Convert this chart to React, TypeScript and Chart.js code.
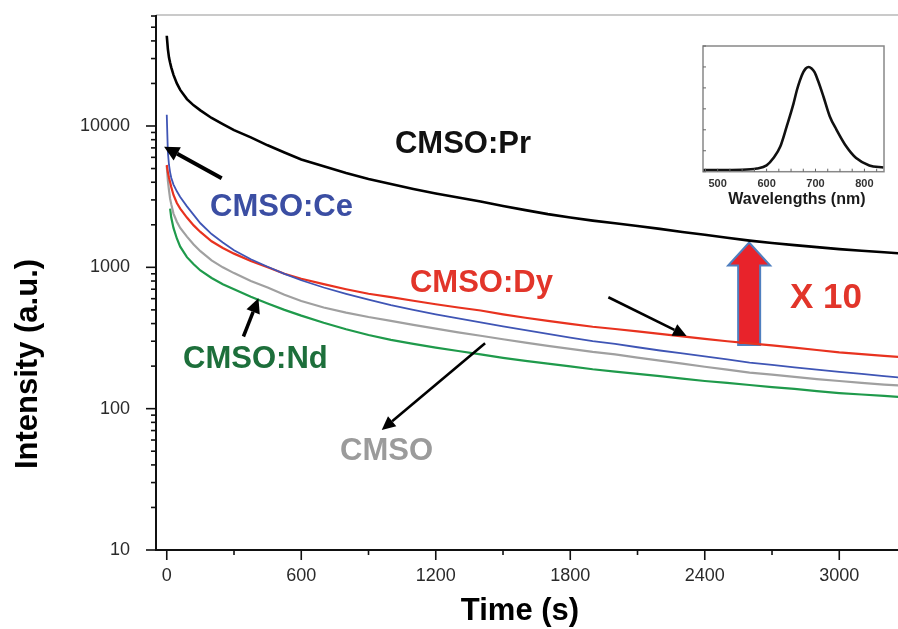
import React, { useEffect, useRef } from "react";
import { Chart, registerables } from "chart.js";

Chart.register(...registerables);

const FONT = '"Liberation Sans", Arial, Helvetica, sans-serif';

// ---- main decay data (time in s, intensity in a.u.) ----
const timeSec = [0, 5, 10, 15, 20, 30, 45, 60, 90, 120, 150, 200, 250, 300, 375, 450, 525, 600,
  700, 800, 900, 1000, 1100, 1200, 1300, 1400, 1500, 1600, 1700, 1800, 1900, 2000, 2100, 2200,
  2300, 2400, 2500, 2600, 2700, 2800, 2900, 3000, 3100, 3200, 3270];

const prValues = [43500, 35000, 30500, 28000, 26000, 23000, 20000, 18000, 15500, 14000, 12900, 11400,
  10300, 9350, 8300, 7300, 6500, 5800, 5200, 4650, 4220, 3880, 3580, 3330, 3120, 2920, 2720, 2540,
  2380, 2250, 2140, 2050, 1960, 1870, 1780, 1700, 1620, 1545, 1485, 1435, 1390, 1345, 1310, 1280, 1255];

const ceValues = [12000, 6500, 5300, 4700, 4300, 3850, 3450, 3150, 2700, 2350, 2050, 1720, 1500, 1320,
  1140, 1010, 900, 810, 720, 650, 590, 540, 500, 465, 435, 408, 382, 360, 338, 318, 300, 287, 272,
  258, 246, 234, 223, 212, 204, 196, 189, 182, 176, 170, 166];

const dyValues = [5300, 4700, 4300, 4000, 3700, 3250, 2850, 2600, 2250, 1980, 1780, 1530, 1370, 1250,
  1110, 1000, 900, 830, 760, 700, 650, 615, 580, 548, 520, 495, 465, 440, 418, 398, 380, 366, 352,
  338, 325, 312, 300, 290, 280, 270, 260, 250, 243, 236, 232];

const cmsoValues = [5200, 4100, 3500, 3050, 2800, 2400, 2100, 1900, 1650, 1450, 1300, 1120, 1000, 910,
  800, 720, 640, 578, 520, 478, 445, 418, 392, 368, 347, 328, 310, 293, 278, 265, 252, 242, 230,
  219, 208, 198, 189, 180, 174, 168, 162, 157, 152, 148, 146];

const ndValues = [null, null, null, 2600, 2250, 1900, 1600, 1400, 1180, 1050, 950, 840, 760, 700,
  620, 555, 500, 455, 405, 365, 332, 307, 287, 270, 256, 242, 229, 218, 208, 199, 190, 183, 176,
  170, 163, 157, 152, 147, 142, 138, 133, 129, 126, 123, 121];

const xTickValues = [0, 300, 600, 900, 1200, 1500, 1800, 2100, 2400, 2700, 3000];
const xLabelValues = [0, 600, 1200, 1800, 2400, 3000];
const yTickValues = [10, 20, 30, 40, 50, 60, 70, 80, 90, 100, 200, 300, 400, 500, 600, 700, 800, 900,
  1000, 2000, 3000, 4000, 5000, 6000, 7000, 8000, 9000, 10000, 20000, 30000, 40000, 50000, 60000];
const yLabelValues = [10, 100, 1000, 10000];

// ---- inset emission spectrum ----
const wavelengths = [470, 500, 550, 580, 600, 614, 628, 641, 655, 662, 668, 675, 680, 686, 692, 698,
  705, 716, 729, 743, 763, 783, 810, 839];
const emission = [0.016, 0.016, 0.018, 0.03, 0.06, 0.13, 0.24, 0.43, 0.65, 0.78, 0.87, 0.95, 0.985,
  1.0, 0.985, 0.95, 0.87, 0.72, 0.53, 0.4, 0.24, 0.13, 0.06, 0.04];
const insetLabelValues = [500, 600, 700, 800];
const insetMinorTicks = [475, 500, 525, 550, 575, 600, 625, 650, 675, 700, 725, 750, 775, 800, 825];
const insetYTicks = [0, 0.2, 0.4, 0.6, 0.8, 1.0, 1.2];

const series = [
  { label: "CMSO:Pr", values: prValues, color: "#000000", width: 2.6 },
  { label: "CMSO:Ce", values: ceValues, color: "#3f55b5", width: 1.8 },
  { label: "CMSO:Dy", values: dyValues, color: "#e8321f", width: 2.2 },
  { label: "CMSO", values: cmsoValues, color: "#a0a0a0", width: 2.2 },
  { label: "CMSO:Nd", values: ndValues, color: "#1f9a4b", width: 2.2 },
];

// annotation anchors in data units (time, intensity)
const labelNotes = [
  { text: "CMSO:Pr", t: 1018, v: 6460, color: "#111111", size: 31 },
  { text: "CMSO:Ce", t: 193, v: 2310, color: "#3b4ea3", size: 31 },
  { text: "CMSO:Dy", t: 1085, v: 670, color: "#e2352a", size: 31 },
  { text: "CMSO:Nd", t: 73, v: 194, color: "#1d6f3b", size: 31 },
  { text: "CMSO", t: 773, v: 43.4, color: "#9b9b9b", size: 31 },
  { text: "X 10", t: 2780, v: 516, color: "#e2352a", size: 35 },
];
const arrowNotes = [
  { t1: 245, v1: 4275, t2: -12, v2: 7145, w: 4 },
  { t1: 342, v1: 324, t2: 409, v2: 604, w: 3.5 },
  { t1: 1420, v1: 290, t2: 959, v2: 70.6, w: 2.6 },
  { t1: 1970, v1: 614, t2: 2319, v2: 327, w: 2.6 },
];
const bigArrow = { t: 2598, from: 282.6, to: 1496 };

function drawArrow(ctx: any, x1: number, y1: number, x2: number, y2: number, w: number) {
  const headLen = 11 + w;
  const headW = 9 + w * 1.5;
  const ang = Math.atan2(y2 - y1, x2 - x1);
  const bx = x2 - headLen * Math.cos(ang);
  const by = y2 - headLen * Math.sin(ang);
  ctx.lineWidth = w;
  ctx.lineCap = "butt";
  ctx.beginPath();
  ctx.moveTo(x1, y1);
  ctx.lineTo(bx, by);
  ctx.stroke();
  ctx.beginPath();
  ctx.moveTo(x2, y2);
  ctx.lineTo(bx + (headW / 2) * Math.sin(ang), by - (headW / 2) * Math.cos(ang));
  ctx.lineTo(bx - (headW / 2) * Math.sin(ang), by + (headW / 2) * Math.cos(ang));
  ctx.closePath();
  ctx.fill();
}

const mainDecor = {
  id: "mainDecor",
  beforeDatasetsDraw(chart: any) {
    const { ctx, scales } = chart;
    const xs = scales.x;
    const ys = scales.y;
    const bx = xs.getPixelForValue(bigArrow.t);
    const yb = ys.getPixelForValue(bigArrow.from);
    const yt = ys.getPixelForValue(bigArrow.to);
    const sw = 11, hw = 21, hl = 23;
    ctx.save();
    ctx.beginPath();
    ctx.moveTo(bx - sw, yb);
    ctx.lineTo(bx - sw, yt + hl);
    ctx.lineTo(bx - hw, yt + hl);
    ctx.lineTo(bx, yt);
    ctx.lineTo(bx + hw, yt + hl);
    ctx.lineTo(bx + sw, yt + hl);
    ctx.lineTo(bx + sw, yb);
    ctx.closePath();
    ctx.fillStyle = "#e8232b";
    ctx.fill();
    ctx.strokeStyle = "#4f7fbf";
    ctx.lineWidth = 2;
    ctx.lineJoin = "miter";
    ctx.stroke();
    ctx.restore();
  },
  afterDraw(chart: any) {
    const { ctx, chartArea: a, scales } = chart;
    const xs = scales.x;
    const ys = scales.y;
    ctx.save();
    // top frame line
    ctx.strokeStyle = "#cacaca";
    ctx.lineWidth = 2;
    ctx.beginPath();
    ctx.moveTo(a.left, a.top);
    ctx.lineTo(a.right, a.top);
    ctx.stroke();
    // axes
    ctx.strokeStyle = "#111111";
    ctx.lineWidth = 2;
    ctx.beginPath();
    ctx.moveTo(a.left, a.top);
    ctx.lineTo(a.left, a.bottom);
    ctx.lineTo(a.right, a.bottom);
    ctx.stroke();
    ctx.lineWidth = 1.6;
    for (const t of ys.ticks) {
      const py = ys.getPixelForValue(t.value);
      const len = yLabelValues.includes(t.value) ? 10 : 5;
      ctx.beginPath();
      ctx.moveTo(a.left - len, py);
      ctx.lineTo(a.left, py);
      ctx.stroke();
    }
    for (const t of xs.ticks) {
      const px = xs.getPixelForValue(t.value);
      const len = xLabelValues.includes(t.value) ? 10 : 5;
      ctx.beginPath();
      ctx.moveTo(px, a.bottom);
      ctx.lineTo(px, a.bottom + len);
      ctx.stroke();
    }
    // arrows
    ctx.strokeStyle = "#000000";
    ctx.fillStyle = "#000000";
    for (const ar of arrowNotes) {
      drawArrow(ctx, xs.getPixelForValue(ar.t1), ys.getPixelForValue(ar.v1),
        xs.getPixelForValue(ar.t2), ys.getPixelForValue(ar.v2), ar.w);
    }
    // labels
    ctx.textAlign = "left";
    ctx.textBaseline = "alphabetic";
    for (const n of labelNotes) {
      ctx.font = `bold ${n.size}px ${FONT}`;
      ctx.fillStyle = n.color;
      ctx.fillText(n.text, xs.getPixelForValue(n.t), ys.getPixelForValue(n.v));
    }
    // axis titles
    ctx.fillStyle = "#000000";
    ctx.font = `bold 31px ${FONT}`;
    ctx.textAlign = "center";
    ctx.fillText("Time (s)", 520, 620);
    ctx.translate(37, 364);
    ctx.rotate(-Math.PI / 2);
    ctx.fillText("Intensity (a.u.)", 0, 0);
    ctx.restore();
  },
};

const insetDecor = {
  id: "insetDecor",
  afterDraw(chart: any) {
    const { ctx, chartArea: a, scales } = chart;
    const xs = scales.x;
    const ys = scales.y;
    ctx.save();
    ctx.strokeStyle = "#888888";
    ctx.lineWidth = 1.5;
    ctx.strokeRect(a.left, a.top, a.right - a.left, a.bottom - a.top);
    ctx.strokeStyle = "#666666";
    ctx.lineWidth = 1;
    for (const v of insetYTicks) {
      const py = ys.getPixelForValue(v);
      ctx.beginPath();
      ctx.moveTo(a.left, py);
      ctx.lineTo(a.left + 3, py);
      ctx.stroke();
    }
    for (const v of insetMinorTicks) {
      const px = xs.getPixelForValue(v);
      ctx.beginPath();
      ctx.moveTo(px, a.bottom);
      ctx.lineTo(px, a.bottom - 3);
      ctx.stroke();
    }
    ctx.fillStyle = "#1a1a1a";
    ctx.font = `bold 16px ${FONT}`;
    ctx.textAlign = "center";
    ctx.textBaseline = "alphabetic";
    ctx.fillText("Wavelengths (nm)", xs.getPixelForValue(662), a.bottom + 32);
    ctx.restore();
  },
};

export default function App() {
  const mainRef = useRef<HTMLCanvasElement>(null);
  const insetRef = useRef<HTMLCanvasElement>(null);

  useEffect(() => {
    const main = new Chart(mainRef.current as HTMLCanvasElement, {
      type: "line",
      data: {
        datasets: series.map((s) => ({
          label: s.label,
          data: timeSec
            .map((t, i) => ({ x: t, y: s.values[i] as number }))
            .filter((p) => p.y !== null && p.y !== undefined),
          borderColor: s.color,
          backgroundColor: s.color,
          borderWidth: s.width,
          pointRadius: 0,
          tension: 0,
          fill: false,
        })),
      },
      options: {
        responsive: false,
        animation: false,
        devicePixelRatio: 1,
        layout: { padding: { top: 15, left: 0, right: 0, bottom: 0 } },
        plugins: { legend: { display: false }, tooltip: { enabled: false } },
        scales: {
          x: {
            type: "linear",
            min: -48,
            max: 3262,
            bounds: "data",
            grid: { display: false, drawTicks: true, tickLength: 10 },
            border: { display: false },
            afterBuildTicks: (s: any) => {
              s.ticks = xTickValues.map((v) => ({ value: v }));
            },
            afterFit: (s: any) => {
              s.height = 79;
              s.paddingLeft = 0;
              s.paddingRight = 0;
            },
            ticks: {
              autoSkip: false,
              maxRotation: 0,
              minRotation: 0,
              padding: 5,
              color: "#2a2a2a",
              font: { family: FONT, size: 18 },
              callback: (v: any) => (xLabelValues.includes(Number(v)) ? String(v) : ""),
            },
          },
          y: {
            type: "logarithmic",
            min: 10,
            max: 61000,
            bounds: "data",
            grid: { display: false, drawTicks: true, tickLength: 10 },
            border: { display: false },
            afterBuildTicks: (s: any) => {
              s.ticks = yTickValues.map((v) => ({ value: v }));
            },
            afterFit: (s: any) => {
              s.width = 156;
              s.paddingTop = 0;
              s.paddingBottom = 0;
            },
            ticks: {
              autoSkip: false,
              padding: 16,
              color: "#2a2a2a",
              font: { family: FONT, size: 18 },
              callback: (v: any) => (yLabelValues.includes(Number(v)) ? String(v) : ""),
            },
          },
        },
      },
      plugins: [mainDecor],
    } as any);

    const inset = new Chart(insetRef.current as HTMLCanvasElement, {
      type: "line",
      data: {
        datasets: [
          {
            label: "Emission",
            data: wavelengths.map((w, i) => ({ x: w, y: emission[i] })),
            borderColor: "#111111",
            borderWidth: 2.6,
            pointRadius: 0,
            cubicInterpolationMode: "monotone",
            fill: false,
          },
        ],
      },
      options: {
        responsive: false,
        animation: false,
        devicePixelRatio: 1,
        layout: { padding: { top: 16, left: 43, right: 14, bottom: 0 } },
        plugins: { legend: { display: false }, tooltip: { enabled: false } },
        scales: {
          x: {
            type: "linear",
            min: 470,
            max: 840,
            bounds: "data",
            grid: { display: false, drawTicks: false },
            border: { display: false },
            afterBuildTicks: (s: any) => {
              s.ticks = insetLabelValues.map((v) => ({ value: v }));
            },
            afterFit: (s: any) => {
              s.height = 43.3;
              s.paddingLeft = 0;
              s.paddingRight = 0;
            },
            ticks: {
              autoSkip: false,
              maxRotation: 0,
              padding: 6,
              color: "#333333",
              font: { family: FONT, size: 11, weight: "bold" },
            },
          },
          y: { type: "linear", display: false, min: 0, max: 1.2 },
        },
      },
      plugins: [insetDecor],
    } as any);

    return () => {
      main.destroy();
      inset.destroy();
    };
  }, []);

  return (
    <div style={{ position: "fixed", left: 0, top: 0, width: 898, height: 629, background: "#ffffff" }}>
      <canvas
        ref={mainRef}
        width={898}
        height={629}
        style={{ position: "absolute", left: 0, top: 0, width: 898, height: 629, display: "block" }}
      />
      <canvas
        ref={insetRef}
        width={238}
        height={185}
        style={{ position: "absolute", left: 660, top: 30, width: 238, height: 185, display: "block" }}
      />
    </div>
  );
}
